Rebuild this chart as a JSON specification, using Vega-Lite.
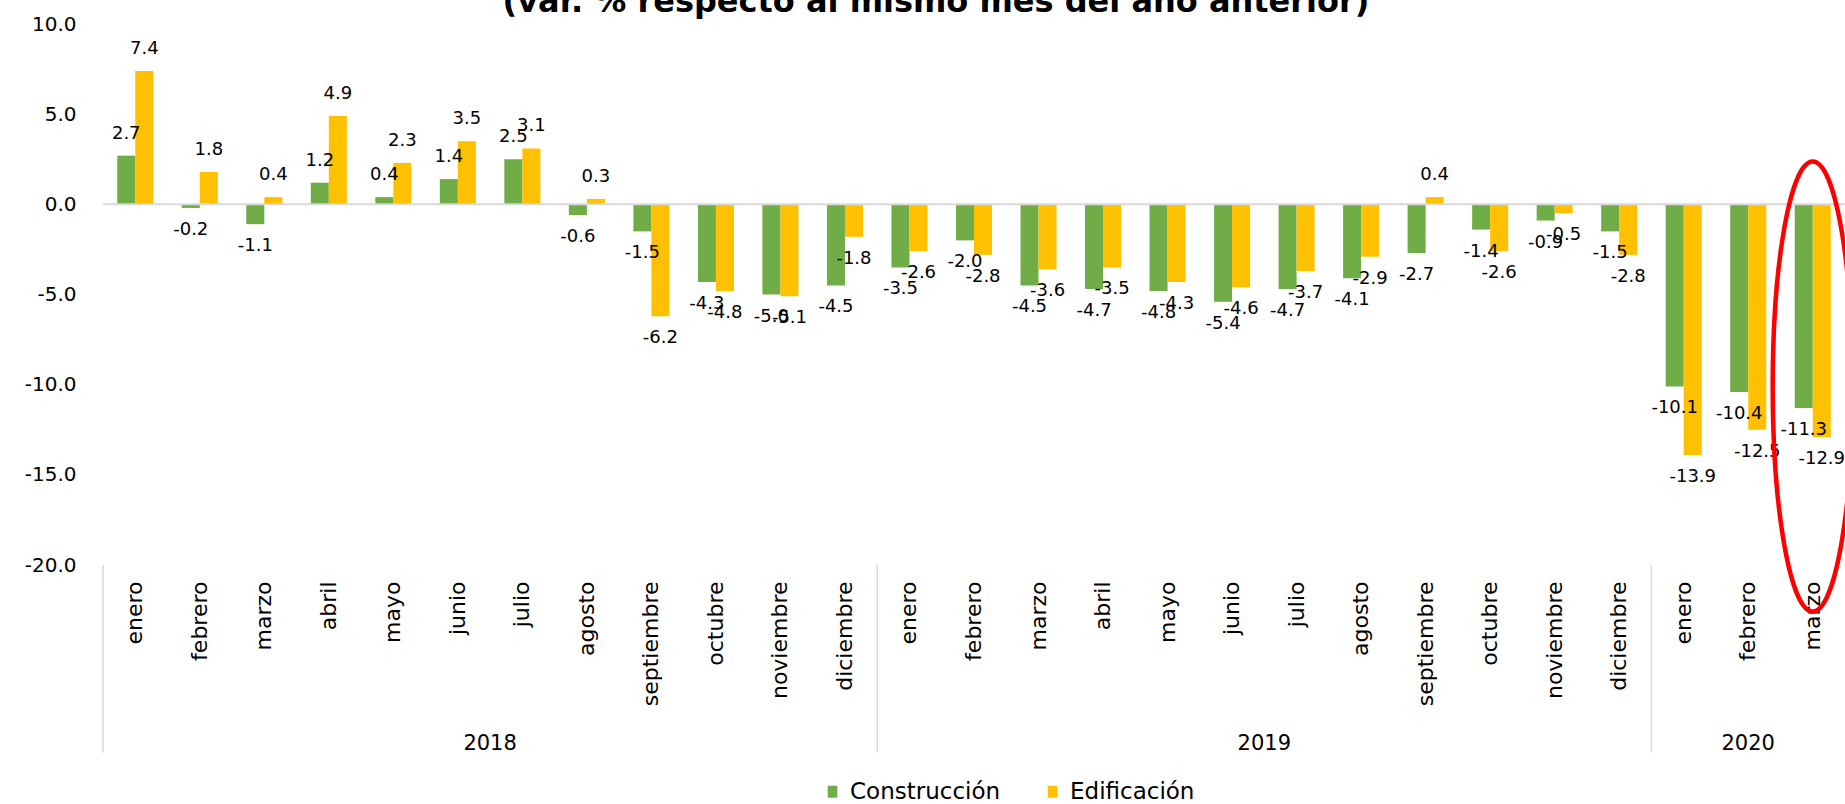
{
  "$schema": "https://vega.github.io/schema/vega-lite/v6.json",
  "autosize": {"type": "none"},
  "padding": {"top": 24, "left": 103, "right": 0, "bottom": 239},
  "width": 1742,
  "height": 541,
  "title": {
    "text": "(var. % respecto al mismo mes del año anterior)",
    "anchor": "middle",
    "fontSize": 32,
    "fontWeight": "bold",
    "font": "DejaVu Sans",
    "color": "#000000",
    "baseline": "bottom",
    "offset": -37,
    "dx": -38
  },
  "config": {
    "view": {"stroke": null},
    "font": "DejaVu Sans",
    "locale": {"number": {"decimal": ".", "thousands": ",", "grouping": [3], "currency": ["", ""], "minus": "-"}},
    "axisX": {
      "labelAngle": -90,
      "labelAlign": "right",
      "labelBaseline": "middle",
      "labelFontSize": 22,
      "labelPadding": 16,
      "labelColor": "#000000",
      "ticks": false,
      "domain": false,
      "grid": false
    },
    "axisY": {
      "labelFontSize": 20,
      "labelPadding": 27,
      "labelColor": "#000000",
      "ticks": false,
      "domain": false,
      "grid": false
    }
  },
  "datasets": {
    "serie": [
      {"k": "2018|enero", "s": "Construcción", "v": 2.7},
      {"k": "2018|febrero", "s": "Construcción", "v": -0.2},
      {"k": "2018|marzo", "s": "Construcción", "v": -1.1},
      {"k": "2018|abril", "s": "Construcción", "v": 1.2},
      {"k": "2018|mayo", "s": "Construcción", "v": 0.4},
      {"k": "2018|junio", "s": "Construcción", "v": 1.4},
      {"k": "2018|julio", "s": "Construcción", "v": 2.5},
      {"k": "2018|agosto", "s": "Construcción", "v": -0.6},
      {"k": "2018|septiembre", "s": "Construcción", "v": -1.5},
      {"k": "2018|octubre", "s": "Construcción", "v": -4.3},
      {"k": "2018|noviembre", "s": "Construcción", "v": -5.0},
      {"k": "2018|diciembre", "s": "Construcción", "v": -4.5},
      {"k": "2019|enero", "s": "Construcción", "v": -3.5},
      {"k": "2019|febrero", "s": "Construcción", "v": -2.0},
      {"k": "2019|marzo", "s": "Construcción", "v": -4.5},
      {"k": "2019|abril", "s": "Construcción", "v": -4.7},
      {"k": "2019|mayo", "s": "Construcción", "v": -4.8},
      {"k": "2019|junio", "s": "Construcción", "v": -5.4},
      {"k": "2019|julio", "s": "Construcción", "v": -4.7},
      {"k": "2019|agosto", "s": "Construcción", "v": -4.1},
      {"k": "2019|septiembre", "s": "Construcción", "v": -2.7},
      {"k": "2019|octubre", "s": "Construcción", "v": -1.4},
      {"k": "2019|noviembre", "s": "Construcción", "v": -0.9},
      {"k": "2019|diciembre", "s": "Construcción", "v": -1.5},
      {"k": "2020|enero", "s": "Construcción", "v": -10.1},
      {"k": "2020|febrero", "s": "Construcción", "v": -10.4},
      {"k": "2020|marzo", "s": "Construcción", "v": -11.3},
      {"k": "2018|enero", "s": "Edificación", "v": 7.4},
      {"k": "2018|febrero", "s": "Edificación", "v": 1.8},
      {"k": "2018|marzo", "s": "Edificación", "v": 0.4},
      {"k": "2018|abril", "s": "Edificación", "v": 4.9},
      {"k": "2018|mayo", "s": "Edificación", "v": 2.3},
      {"k": "2018|junio", "s": "Edificación", "v": 3.5},
      {"k": "2018|julio", "s": "Edificación", "v": 3.1},
      {"k": "2018|agosto", "s": "Edificación", "v": 0.3},
      {"k": "2018|septiembre", "s": "Edificación", "v": -6.2},
      {"k": "2018|octubre", "s": "Edificación", "v": -4.8},
      {"k": "2018|noviembre", "s": "Edificación", "v": -5.1},
      {"k": "2018|diciembre", "s": "Edificación", "v": -1.8},
      {"k": "2019|enero", "s": "Edificación", "v": -2.6},
      {"k": "2019|febrero", "s": "Edificación", "v": -2.8},
      {"k": "2019|marzo", "s": "Edificación", "v": -3.6},
      {"k": "2019|abril", "s": "Edificación", "v": -3.5},
      {"k": "2019|mayo", "s": "Edificación", "v": -4.3},
      {"k": "2019|junio", "s": "Edificación", "v": -4.6},
      {"k": "2019|julio", "s": "Edificación", "v": -3.7},
      {"k": "2019|agosto", "s": "Edificación", "v": -2.9},
      {"k": "2019|septiembre", "s": "Edificación", "v": 0.4},
      {"k": "2019|octubre", "s": "Edificación", "v": -2.6},
      {"k": "2019|noviembre", "s": "Edificación", "v": -0.5},
      {"k": "2019|diciembre", "s": "Edificación", "v": -2.8},
      {"k": "2020|enero", "s": "Edificación", "v": -13.9},
      {"k": "2020|febrero", "s": "Edificación", "v": -12.5},
      {"k": "2020|marzo", "s": "Edificación", "v": -12.9}
    ]
  },
  "layer": [
    {
      "data": {"name": "serie"},
      "mark": {"type": "bar"},
      "encoding": {
        "x": {
          "field": "k",
          "type": "nominal",
          "title": null,
          "scale": {
            "domain": ["2018|enero", "2018|febrero", "2018|marzo", "2018|abril", "2018|mayo", "2018|junio", "2018|julio", "2018|agosto", "2018|septiembre", "2018|octubre", "2018|noviembre", "2018|diciembre", "2019|enero", "2019|febrero", "2019|marzo", "2019|abril", "2019|mayo", "2019|junio", "2019|julio", "2019|agosto", "2019|septiembre", "2019|octubre", "2019|noviembre", "2019|diciembre", "2020|enero", "2020|febrero", "2020|marzo"],
            "paddingInner": 0,
            "paddingOuter": 0
          },
          "axis": {"labelExpr": "split(datum.value, '|')[1]"}
        },
        "xOffset": {"field": "s", "type": "nominal", "scale": {"paddingOuter": 0.79, "paddingInner": 0}},
        "y": {
          "field": "v",
          "type": "quantitative",
          "title": null,
          "scale": {"domain": [-20, 10], "nice": false, "zero": false},
          "axis": {"values": [-20, -15, -10, -5, 0, 5, 10], "format": ".1f"}
        },
        "color": {
          "field": "s",
          "type": "nominal",
          "scale": {"domain": ["Construcción", "Edificación"], "range": ["#70AD47", "#FFC000"]},
          "legend": {
            "title": null,
            "orient": "none",
            "legendX": 718,
            "legendY": 756,
            "direction": "horizontal",
            "symbolType": "M-0.8,-1H0.8V1H-0.8Z",
            "symbolSize": 144,
            "symbolStrokeWidth": 0,
            "labelFontSize": 23,
            "labelColor": "#000000",
            "labelOffset": 6,
            "columnPadding": 40
          }
        }
      }
    },
    {
      "data": {"values": [{"linea": "cero"}]},
      "mark": {"type": "rule", "color": "#D9D9D9", "strokeWidth": 2},
      "encoding": {"y": {"datum": 0, "type": "quantitative", "title": null}}
    },
    {
      "data": {"name": "serie"},
      "transform": [{"filter": "datum.v >= 0"}],
      "mark": {"type": "text", "fontSize": 18, "baseline": "middle", "dy": -22, "color": "#000000"},
      "encoding": {
        "x": {"field": "k", "type": "nominal", "title": null},
        "xOffset": {"field": "s", "type": "nominal"},
        "y": {"field": "v", "type": "quantitative", "title": null},
        "text": {"field": "v", "type": "quantitative", "format": ".1f"}
      }
    },
    {
      "data": {"name": "serie"},
      "transform": [{"filter": "datum.v < 0"}],
      "mark": {"type": "text", "fontSize": 18, "baseline": "middle", "dy": 22, "color": "#000000"},
      "encoding": {
        "x": {"field": "k", "type": "nominal", "title": null},
        "xOffset": {"field": "s", "type": "nominal"},
        "y": {"field": "v", "type": "quantitative", "title": null},
        "text": {"field": "v", "type": "quantitative", "format": ".1f"}
      }
    },
    {
      "data": {"values": [{"k": "2018|enero"}, {"k": "2019|enero"}, {"k": "2020|enero"}]},
      "mark": {"type": "rule", "color": "#D9D9D9", "strokeWidth": 1.5},
      "encoding": {
        "x": {"field": "k", "type": "nominal", "bandPosition": 0, "title": null},
        "y": {"datum": -20, "type": "quantitative", "title": null},
        "y2": {"datum": -30.4}
      }
    },
    {
      "data": {"values": [{"k": "2018|julio", "anio": "2018"}, {"k": "2019|julio", "anio": "2019"}]},
      "mark": {"type": "text", "fontSize": 21, "baseline": "middle", "align": "center", "color": "#000000"},
      "encoding": {
        "x": {"field": "k", "type": "nominal", "bandPosition": 0, "title": null},
        "y": {"datum": -29.9, "type": "quantitative", "title": null},
        "text": {"field": "anio", "type": "nominal"}
      }
    },
    {
      "data": {"values": [{"k": "2020|febrero", "anio": "2020"}]},
      "mark": {"type": "text", "fontSize": 21, "baseline": "middle", "align": "center", "color": "#000000"},
      "encoding": {
        "x": {"field": "k", "type": "nominal", "bandPosition": 0.5, "title": null},
        "y": {"datum": -29.9, "type": "quantitative", "title": null},
        "text": {"field": "anio", "type": "nominal"}
      }
    },
    {
      "data": {"values": [{"k": "2020|marzo", "v": -10.1}]},
      "mark": {
        "type": "point",
        "shape": "M0,-1C0.0983,-1 0.178,-0.5523 0.178,0C0.178,0.5523 0.0983,1 0,1C-0.0983,1 -0.178,0.5523 -0.178,0C-0.178,-0.5523 -0.0983,-1 0,-1Z",
        "filled": false,
        "stroke": "#FF0000",
        "strokeWidth": 4.5,
        "size": 202500,
        "opacity": 1
      },
      "encoding": {
        "x": {"field": "k", "type": "nominal", "title": null},
        "y": {"field": "v", "type": "quantitative", "title": null}
      }
    }
  ]
}
